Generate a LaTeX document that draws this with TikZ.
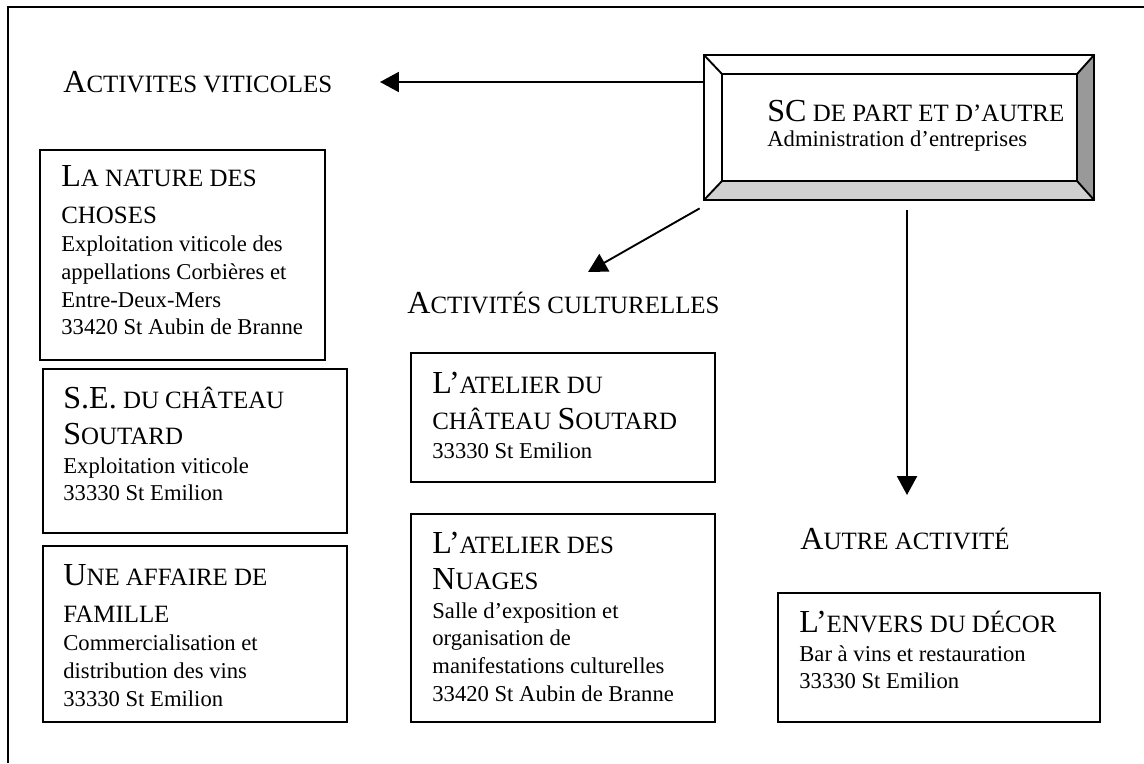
\documentclass[tikz,border=0pt]{standalone}
\usepackage{fontspec}
\setmainfont{Liberation Serif}
\usetikzlibrary{arrows.meta,positioning,fit}

\newcommand{\gc}[1]{{\fontsize{17}{20}\selectfont #1}}
\newcommand{\pc}[1]{{\fontsize{13.2}{20}\selectfont #1}}

\tikzset{
  boite/.style={draw, line width=1pt, inner sep=0pt},
  texte/.style={anchor=base west, inner sep=0pt, align=left, font=\fontsize{12}{14.7}\selectfont},
  bloc/.style={texte, anchor=north west, execute at begin node={\rule{0pt}{12pt}}},
  fleche/.style={line width=1pt, -{Triangle[length=10pt,width=10.6pt]}},
}

\begin{document}
\begin{tikzpicture}[x=0.53pt,y=0.53pt,yscale=-1,xscale=1]
\useasboundingbox (0,0) rectangle (1144,763);

%Shape: Frame
\draw [line width=0.9pt] (8,763) -- (8,7) -- (1144,7) ;

%Shape: Bevel
\node [fit={(704,55) (1094,200)}, inner sep=0pt] (sc) {};
\node [fit={(722,74) (1077,181)}, inner sep=0pt] (scin) {};
\fill [fill={rgb, 255:red, 208; green, 208; blue, 208 }] (sc.south west) -- (sc.south east) -- (scin.south east) -- (scin.south west) -- cycle ;
\fill [fill={rgb, 255:red, 153; green, 153; blue, 153 }] (sc.north east) -- (sc.south east) -- (scin.south east) -- (scin.north east) -- cycle ;
\draw [line width=1pt] (sc.south west) rectangle (sc.north east) ;
\draw [line width=1pt] (scin.south west) rectangle (scin.north east) ;
\draw [line width=1pt] (sc.north west) -- (scin.north west) (sc.north east) -- (scin.north east) (sc.south west) -- (scin.south west) (sc.south east) -- (scin.south east) ;

%Shape: Rectangles
\node [boite, fit={(40,150) (325,360)}] (bnature) {};
\node [boite, fit={(43,369) (347,533)}] (bsoutard) {};
\node [boite, fit={(43,546) (347,722)}] (bfamille) {};
\node [boite, fit={(411,353) (715,482)}] (batelier) {};
\node [boite, fit={(411,514) (715,722)}] (bnuages) {};
\node [boite, fit={(778,593) (1100,722)}] (benvers) {};

% Text Node
\node [bloc] (tsc) at (767,99.4) {\gc{SC}\pc{ DE PART ET D’AUTRE}\\[-1.45pt]Administration d’entreprises};
% Text Node
\node [texte] (viti) at (63,92) {\gc{A}\pc{CTIVITES VITICOLES}};
% Text Node
\node [texte] (culture) at (407,313) {\gc{A}\pc{CTIVITÉS CULTURELLES}};
% Text Node
\node [texte] (autre) at (800,549) {\gc{A}\pc{UTRE ACTIVITÉ}};
% Text Node
\node [bloc] (tnature) at (61,165.4) {\gc{L}\pc{A NATURE DES}\\[4.6pt]\pc{CHOSES}\\[0.4pt]Exploitation viticole des\\appellations Corbières et\\Entre-Deux-Mers\\33420 St Aubin de Branne};
% Text Node
\node [bloc] (tsoutard) at (63,386.4) {\gc{S.E.}\pc{ DU CHÂTEAU}\\[4.6pt]\gc{S}\pc{OUTARD}\\[0.4pt]Exploitation viticole\\33330 St Emilion};
% Text Node
\node [bloc] (tfamille) at (63,564.4) {\gc{U}\pc{NE AFFAIRE DE}\\[4.6pt]\pc{FAMILLE}\\[0.4pt]Commercialisation et\\distribution des vins\\33330 St Emilion};
% Text Node
\node [bloc] (tatelier) at (432,371.4) {\gc{L’}\pc{ATELIER DU}\\[4.6pt]\pc{CHÂTEAU }\gc{S}\pc{OUTARD}\\[0.4pt]33330 St Emilion};
% Text Node
\node [bloc] (tnuages) at (432,531.4) {\gc{L’}\pc{ATELIER DES}\\[4.6pt]\gc{N}\pc{UAGES}\\[0.4pt]Salle d’exposition et\\organisation de\\manifestations culturelles\\33420 St Aubin de Branne};
% Text Node
\node [bloc] (tenvers) at (799,610.4) {\gc{L’}\pc{ENVERS DU DÉCOR}\\[0.6pt]Bar à vins et restauration\\33330 St Emilion};

%Straight Lines
\coordinate (pv) at (380,82);
\coordinate (pc) at (588,272);
\coordinate (pa) at (907,495);
\draw [fleche] (sc.west |- pv) -- (pv) ;
\draw [fleche] ([shift={(-4,8)}]sc.south west) -- (pc) ;
\draw [fleche, shorten <=5.3pt] (pa |- sc.south) -- (pa) ;

\end{tikzpicture}
\end{document}
